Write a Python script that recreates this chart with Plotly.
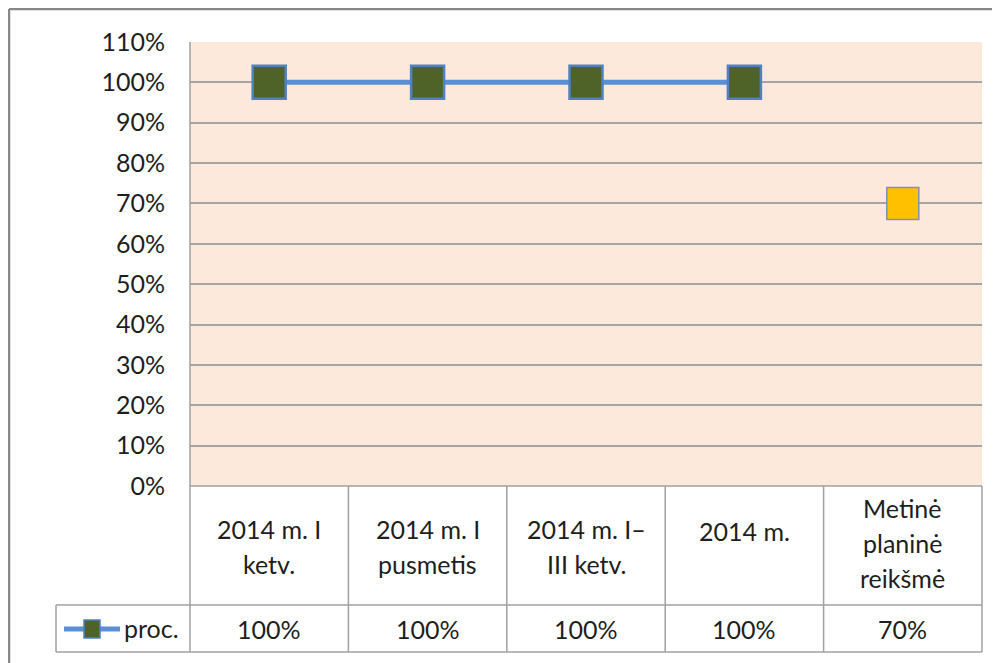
import plotly.graph_objects as go

categories = ["2014 m. I\nketv.", "2014 m. I\npusmetis", "2014 m. I–\nIII ketv.", "2014 m.", "Metinė\nplaninė\nreikšmė"]
values = [1.00, 1.00, 1.00, 1.00, 0.70]
series_name = "proc."
y_ticks = [0.0, 0.1, 0.2, 0.3, 0.4, 0.5, 0.6, 0.7, 0.8, 0.9, 1.0, 1.1]

OFF = 8  # page body margin
W, H = 1000 - OFF, 663 - OFF
L, R, T, B = 190 - OFF, 982 - OFF, 42 - OFF, 486 - OFF
FONT = "Lato"
TXT = "#1E1E1E"
GRID = "#A5A5A5"
TBL = "#A0A0A0"
FS = 25

def px(x):
    return (x - OFF - L) / (R - L)

def py(y):
    return (B - (y - OFF)) / (B - T)

xs = list(range(len(categories)))

fig = go.Figure()
fig.add_trace(go.Scatter(
    x=xs[:4], y=values[:4], mode="lines+markers", name=series_name,
    line=dict(color="#5A8FD6", width=5),
    marker=dict(symbol="square", size=33, color="#4F6228",
                line=dict(color="#4F81C6", width=2.5)),
    showlegend=False))
fig.add_trace(go.Scatter(
    x=xs[4:], y=values[4:], mode="markers", name=series_name,
    marker=dict(symbol="square", size=32, color="#FFC000",
                line=dict(color="#7F93AB", width=1.5)),
    showlegend=False))

shapes = []
def line(x0, y0, x1, y1, color=TBL, width=1.5):
    shapes.append(dict(type="line", xref="paper", yref="paper",
                       x0=px(x0), y0=py(y0), x1=px(x1), y1=py(y1),
                       line=dict(color=color, width=width), layer="above"))

# outer chart border: only top and left edges are visible in the frame
line(9, 9, 1000, 9, color="#888888", width=2.5)
line(9, 9, 9, 663, color="#888888", width=2.5)

rL, rR = 190, 982
col_edges = [rL + i * (rR - rL) / len(categories) for i in range(len(categories) + 1)]
row_top, row_mid, row_bot = 486, 605, 652
leg_left = 56

line(rL, 42, rL, row_bot)
line(rL, row_top, rR, row_top)
line(leg_left, row_mid, rR, row_mid)
line(leg_left, row_bot, rR, row_bot)
for ce in col_edges[1:]:
    line(ce, row_top, ce, row_bot)
line(leg_left, row_mid, leg_left, row_bot)

annotations = []
label_center_y = [546, 546, 546, 531, 543]
LH = 35
for i, (cat, v) in enumerate(zip(categories, values)):
    parts = cat.split("\n")
    n = len(parts)
    for j, p in enumerate(parts):
        yc = label_center_y[i] + (j - (n - 1) / 2) * LH
        annotations.append(dict(x=i, xref="x", y=py(yc), yref="paper",
                                text=p, showarrow=False, xanchor="center", yanchor="middle",
                                font=dict(family=FONT, size=FS, color=TXT)))
    annotations.append(dict(x=i, xref="x", y=py(629), yref="paper",
                            text=f"{v*100:.0f}%", showarrow=False, xanchor="center", yanchor="middle",
                            font=dict(family=FONT, size=FS, color=TXT)))

# legend key in table
shapes.append(dict(type="line", xref="paper", yref="paper",
                   x0=px(64), y0=py(629), x1=px(120), y1=py(629),
                   line=dict(color="#5A8FD6", width=5), layer="above"))
shapes.append(dict(type="rect", xref="paper", yref="paper",
                   x0=px(84), y0=py(620), x1=px(100), y1=py(638),
                   fillcolor="#4F6228", line=dict(color="#4F81C6", width=1.5), layer="above"))
annotations.append(dict(x=px(122), xref="paper", y=py(628), yref="paper",
                        text=series_name, showarrow=False, xanchor="left", yanchor="middle",
                        font=dict(family=FONT, size=FS, color=TXT)))

fig.update_layout(
    width=W, height=H,
    margin=dict(l=L, r=W - R, t=T, b=H - B, pad=0),
    paper_bgcolor="white", plot_bgcolor="#FCE9DB",
    shapes=shapes, annotations=annotations,
    font=dict(family=FONT, size=FS, color=TXT),
    xaxis=dict(range=[-0.5, len(categories) - 0.5], showticklabels=False,
               showgrid=False, zeroline=False, showline=False, fixedrange=True),
    yaxis=dict(range=[0, 1.1], tickvals=y_ticks, tickformat=".0%",
               showgrid=True, gridcolor=GRID, gridwidth=1.5, zeroline=False,
               showline=False, ticks="", ticklabelstandoff=24,
               tickfont=dict(family=FONT, size=FS, color=TXT)),
)

fig.write_html("out.html")
